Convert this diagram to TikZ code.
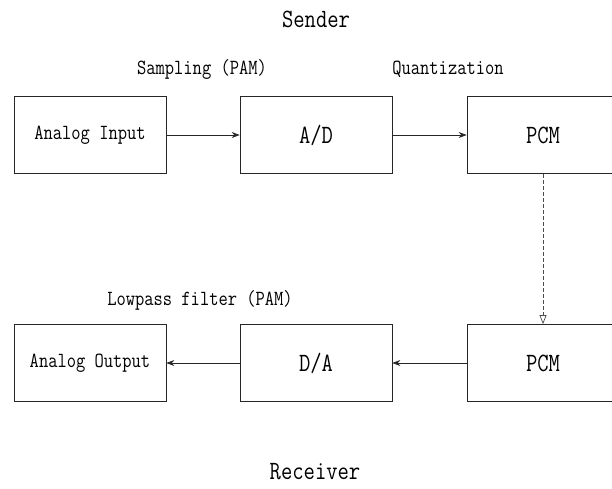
\documentclass[tikz,border=0pt]{standalone}
\usetikzlibrary{arrows.meta}
\newcommand{\tallt}[1]{\scalebox{1}[1.2]{#1}}
\begin{document}
\begin{tikzpicture}[x=1pt,y=-1pt,
  blockbox/.style={draw=black!85,line width=0.7pt,minimum width=152pt,minimum height=77pt,inner sep=0pt,font=\ttfamily\fontsize{18}{20}\selectfont},
  bigbox/.style={blockbox,font=\ttfamily\fontsize{22}{24}\selectfont},
  lbl/.style={inner sep=0pt,font=\ttfamily\fontsize{18}{20}\selectfont},
  ttl/.style={inner sep=0pt,font=\ttfamily\fontsize{22}{24}\selectfont},
  flow/.style={draw=black!85,line width=0.7pt,-{Stealth[length=8pt,width=6pt]}},
  link/.style={draw=black!70,line width=0.7pt,dash pattern=on 4pt off 2pt,-{Triangle[open,length=9pt,width=7pt]}}]
\useasboundingbox (0,0) rectangle (612,488);
\node[ttl] (sender) at (316,19) {\tallt{Sender}};
\node[ttl] (receiver) at (315,472) {\tallt{Receiver}};
\node[lbl] (sampling) at (202,69) {\tallt{Sampling (PAM)}};
\node[lbl] (quant) at (448,69) {\tallt{Quantization}};
\node[lbl] (lowpass) at (200,300) {\tallt{Lowpass filter (PAM)}};
\node[blockbox] (ain) at (90,135) {\tallt{Analog Input}};
\node[bigbox] (ad) at (316,135) {\tallt{A/D}};
\node[bigbox] (pcm1) at (543,135) {\tallt{PCM}};
\node[blockbox] (aout) at (90,363) {\tallt{Analog Output}};
\node[bigbox] (da) at (316,363) {\tallt{D/A}};
\node[bigbox] (pcm2) at (543,363) {\tallt{PCM}};
\draw[flow] (ain) -- (ad);
\draw[flow] (ad) -- (pcm1);
\draw[link] (pcm1) -- (pcm2);
\draw[flow] (pcm2) -- (da);
\draw[flow] (da) -- (aout);
\end{tikzpicture}
\end{document}
